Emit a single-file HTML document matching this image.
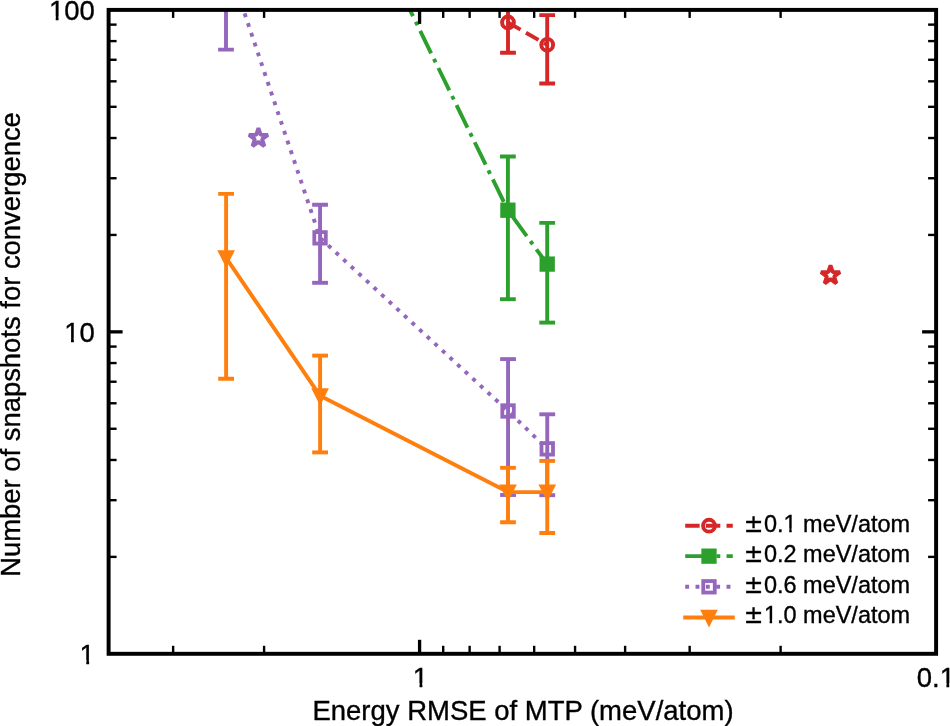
<!DOCTYPE html>
<html lang="en"><head><meta charset="utf-8"><title>Number of snapshots for convergence vs Energy RMSE of MTP</title>
<style>html,body{margin:0;padding:0;background:#fff;overflow:hidden}svg{display:block;will-change:transform}</style></head>
<body>
<svg width="950" height="726" viewBox="0 0 950 726" font-family='"Liberation Sans", sans-serif'>
<rect width="950" height="726" fill="#fff"/>
<defs><clipPath id="ax"><rect x="108.6" y="9.9" width="827.5" height="643.9"/></clipPath></defs>
<g clip-path="url(#ax)">
<path d="M508.0,22.45 L547.2,44.8" fill="none" stroke="#d62728" stroke-width="3.9" stroke-dasharray="14.43 6.24"/>
<line x1="508.0" y1="-20" x2="508.0" y2="52.75" stroke="#d62728" stroke-width="3.9"/><line x1="500.1" y1="-20" x2="515.9" y2="-20" stroke="#d62728" stroke-width="3.9"/><line x1="500.1" y1="52.75" x2="515.9" y2="52.75" stroke="#d62728" stroke-width="3.9"/>
<line x1="547.2" y1="15.15" x2="547.2" y2="83.5" stroke="#d62728" stroke-width="3.9"/><line x1="539.3000000000001" y1="15.15" x2="555.1" y2="15.15" stroke="#d62728" stroke-width="3.9"/><line x1="539.3000000000001" y1="83.5" x2="555.1" y2="83.5" stroke="#d62728" stroke-width="3.9"/>
<circle cx="508.0" cy="22.45" r="5.9" fill="none" stroke="#d62728" stroke-width="3.95"/>
<circle cx="547.2" cy="44.8" r="5.9" fill="none" stroke="#d62728" stroke-width="3.95"/>
<polygon points="830.50,265.25 832.75,272.16 840.01,272.16 834.13,276.43 836.38,283.34 830.50,279.07 824.62,283.34 826.87,276.43 820.99,272.16 828.25,272.16" fill="#fff" stroke="#d62728" stroke-width="3.9" stroke-linejoin="bevel"/>
<path d="M383.88,-43.43 L507.9,210.2 L547.2,264.1" fill="none" stroke="#2ca02c" stroke-width="3.9" stroke-dasharray="24.96 6.24 3.90 6.24"/>
<line x1="507.9" y1="156.5" x2="507.9" y2="299.2" stroke="#2ca02c" stroke-width="3.9"/><line x1="500.0" y1="156.5" x2="515.8" y2="156.5" stroke="#2ca02c" stroke-width="3.9"/><line x1="500.0" y1="299.2" x2="515.8" y2="299.2" stroke="#2ca02c" stroke-width="3.9"/>
<line x1="547.2" y1="222.9" x2="547.2" y2="322.6" stroke="#2ca02c" stroke-width="3.9"/><line x1="539.3000000000001" y1="222.9" x2="555.1" y2="222.9" stroke="#2ca02c" stroke-width="3.9"/><line x1="539.3000000000001" y1="322.6" x2="555.1" y2="322.6" stroke="#2ca02c" stroke-width="3.9"/>
<rect x="500.25" y="202.54999999999998" width="15.3" height="15.3" fill="#2ca02c"/>
<rect x="539.5500000000001" y="256.45000000000005" width="15.3" height="15.3" fill="#2ca02c"/>
<path d="M226.0,-42.0 L320.05,237.85 L508.05,411.0 L547.25,448.85" fill="none" stroke="#9467bd" stroke-width="3.9" stroke-dasharray="3.90 6.43" stroke-dashoffset="3.6"/>
<line x1="226.0" y1="-80" x2="226.0" y2="49.6" stroke="#9467bd" stroke-width="3.9"/><line x1="218.1" y1="-80" x2="233.9" y2="-80" stroke="#9467bd" stroke-width="3.9"/><line x1="218.1" y1="49.6" x2="233.9" y2="49.6" stroke="#9467bd" stroke-width="3.9"/>
<line x1="320.05" y1="204.8" x2="320.05" y2="282.8" stroke="#9467bd" stroke-width="3.9"/><line x1="312.15000000000003" y1="204.8" x2="327.95" y2="204.8" stroke="#9467bd" stroke-width="3.9"/><line x1="312.15000000000003" y1="282.8" x2="327.95" y2="282.8" stroke="#9467bd" stroke-width="3.9"/>
<line x1="508.05" y1="359.1" x2="508.05" y2="495.0" stroke="#9467bd" stroke-width="3.9"/><line x1="500.15000000000003" y1="359.1" x2="515.95" y2="359.1" stroke="#9467bd" stroke-width="3.9"/><line x1="500.15000000000003" y1="495.0" x2="515.95" y2="495.0" stroke="#9467bd" stroke-width="3.9"/>
<line x1="547.25" y1="414.3" x2="547.25" y2="495.2" stroke="#9467bd" stroke-width="3.9"/><line x1="539.35" y1="414.3" x2="555.15" y2="414.3" stroke="#9467bd" stroke-width="3.9"/><line x1="539.35" y1="495.2" x2="555.15" y2="495.2" stroke="#9467bd" stroke-width="3.9"/>
<rect x="314.3" y="232.1" width="11.5" height="11.5" fill="none" stroke="#9467bd" stroke-width="3.8"/>
<rect x="502.3" y="405.25" width="11.5" height="11.5" fill="none" stroke="#9467bd" stroke-width="3.8"/>
<rect x="541.5" y="443.1" width="11.5" height="11.5" fill="none" stroke="#9467bd" stroke-width="3.8"/>
<polygon points="258.45,128.00 260.70,134.91 267.96,134.91 262.08,139.18 264.33,146.09 258.45,141.82 252.57,146.09 254.82,139.18 248.94,134.91 256.20,134.91" fill="#fff" stroke="#9467bd" stroke-width="3.9" stroke-linejoin="bevel"/>
<path d="M226.1,257.8 L320.1,395.8 L508.0,492.1 L547.25,492.1" fill="none" stroke="#ff7f0e" stroke-width="3.9" stroke-linejoin="round"/>
<line x1="226.1" y1="193.9" x2="226.1" y2="378.7" stroke="#ff7f0e" stroke-width="3.9"/><line x1="218.2" y1="193.9" x2="234.0" y2="193.9" stroke="#ff7f0e" stroke-width="3.9"/><line x1="218.2" y1="378.7" x2="234.0" y2="378.7" stroke="#ff7f0e" stroke-width="3.9"/>
<line x1="320.1" y1="355.6" x2="320.1" y2="452.4" stroke="#ff7f0e" stroke-width="3.9"/><line x1="312.20000000000005" y1="355.6" x2="328.0" y2="355.6" stroke="#ff7f0e" stroke-width="3.9"/><line x1="312.20000000000005" y1="452.4" x2="328.0" y2="452.4" stroke="#ff7f0e" stroke-width="3.9"/>
<line x1="508.0" y1="467.8" x2="508.0" y2="522.2" stroke="#ff7f0e" stroke-width="3.9"/><line x1="500.1" y1="467.8" x2="515.9" y2="467.8" stroke="#ff7f0e" stroke-width="3.9"/><line x1="500.1" y1="522.2" x2="515.9" y2="522.2" stroke="#ff7f0e" stroke-width="3.9"/>
<line x1="547.25" y1="460.9" x2="547.25" y2="533.0" stroke="#ff7f0e" stroke-width="3.9"/><line x1="539.35" y1="460.9" x2="555.15" y2="460.9" stroke="#ff7f0e" stroke-width="3.9"/><line x1="539.35" y1="533.0" x2="555.15" y2="533.0" stroke="#ff7f0e" stroke-width="3.9"/>
<polygon points="220.35,252.05 231.85,252.05 226.1,263.55" fill="#ff7f0e" stroke="#ff7f0e" stroke-width="3.8" stroke-linejoin="miter" stroke-miterlimit="10"/>
<polygon points="314.35,390.05 325.85,390.05 320.1,401.55" fill="#ff7f0e" stroke="#ff7f0e" stroke-width="3.8" stroke-linejoin="miter" stroke-miterlimit="10"/>
<polygon points="502.25,486.35 513.75,486.35 508.0,497.85" fill="#ff7f0e" stroke="#ff7f0e" stroke-width="3.8" stroke-linejoin="miter" stroke-miterlimit="10"/>
<polygon points="541.5,486.35 553.0,486.35 547.25,497.85" fill="#ff7f0e" stroke="#ff7f0e" stroke-width="3.8" stroke-linejoin="miter" stroke-miterlimit="10"/>
</g>
<line x1="173.13" y1="653.80" x2="173.13" y2="645.80" stroke="#000" stroke-width="2.4"/>
<line x1="173.13" y1="9.90" x2="173.13" y2="17.90" stroke="#000" stroke-width="2.4"/>
<line x1="264.09" y1="653.80" x2="264.09" y2="645.80" stroke="#000" stroke-width="2.4"/>
<line x1="264.09" y1="9.90" x2="264.09" y2="17.90" stroke="#000" stroke-width="2.4"/>
<line x1="419.58" y1="653.80" x2="419.58" y2="639.80" stroke="#000" stroke-width="3.3"/>
<line x1="419.58" y1="9.90" x2="419.58" y2="23.90" stroke="#000" stroke-width="3.3"/>
<line x1="443.21" y1="653.80" x2="443.21" y2="645.80" stroke="#000" stroke-width="2.4"/>
<line x1="443.21" y1="9.90" x2="443.21" y2="17.90" stroke="#000" stroke-width="2.4"/>
<line x1="469.63" y1="653.80" x2="469.63" y2="645.80" stroke="#000" stroke-width="2.4"/>
<line x1="469.63" y1="9.90" x2="469.63" y2="17.90" stroke="#000" stroke-width="2.4"/>
<line x1="499.59" y1="653.80" x2="499.59" y2="645.80" stroke="#000" stroke-width="2.4"/>
<line x1="499.59" y1="9.90" x2="499.59" y2="17.90" stroke="#000" stroke-width="2.4"/>
<line x1="534.17" y1="653.80" x2="534.17" y2="645.80" stroke="#000" stroke-width="2.4"/>
<line x1="534.17" y1="9.90" x2="534.17" y2="17.90" stroke="#000" stroke-width="2.4"/>
<line x1="575.07" y1="653.80" x2="575.07" y2="645.80" stroke="#000" stroke-width="2.4"/>
<line x1="575.07" y1="9.90" x2="575.07" y2="17.90" stroke="#000" stroke-width="2.4"/>
<line x1="625.12" y1="653.80" x2="625.12" y2="645.80" stroke="#000" stroke-width="2.4"/>
<line x1="625.12" y1="9.90" x2="625.12" y2="17.90" stroke="#000" stroke-width="2.4"/>
<line x1="689.66" y1="653.80" x2="689.66" y2="645.80" stroke="#000" stroke-width="2.4"/>
<line x1="689.66" y1="9.90" x2="689.66" y2="17.90" stroke="#000" stroke-width="2.4"/>
<line x1="780.61" y1="653.80" x2="780.61" y2="645.80" stroke="#000" stroke-width="2.4"/>
<line x1="780.61" y1="9.90" x2="780.61" y2="17.90" stroke="#000" stroke-width="2.4"/>
<line x1="108.60" y1="556.88" x2="116.60" y2="556.88" stroke="#000" stroke-width="2.4"/>
<line x1="936.10" y1="556.88" x2="928.10" y2="556.88" stroke="#000" stroke-width="2.4"/>
<line x1="108.60" y1="500.19" x2="116.60" y2="500.19" stroke="#000" stroke-width="2.4"/>
<line x1="936.10" y1="500.19" x2="928.10" y2="500.19" stroke="#000" stroke-width="2.4"/>
<line x1="108.60" y1="459.97" x2="116.60" y2="459.97" stroke="#000" stroke-width="2.4"/>
<line x1="936.10" y1="459.97" x2="928.10" y2="459.97" stroke="#000" stroke-width="2.4"/>
<line x1="108.60" y1="428.77" x2="116.60" y2="428.77" stroke="#000" stroke-width="2.4"/>
<line x1="936.10" y1="428.77" x2="928.10" y2="428.77" stroke="#000" stroke-width="2.4"/>
<line x1="108.60" y1="403.27" x2="116.60" y2="403.27" stroke="#000" stroke-width="2.4"/>
<line x1="936.10" y1="403.27" x2="928.10" y2="403.27" stroke="#000" stroke-width="2.4"/>
<line x1="108.60" y1="381.72" x2="116.60" y2="381.72" stroke="#000" stroke-width="2.4"/>
<line x1="936.10" y1="381.72" x2="928.10" y2="381.72" stroke="#000" stroke-width="2.4"/>
<line x1="108.60" y1="363.05" x2="116.60" y2="363.05" stroke="#000" stroke-width="2.4"/>
<line x1="936.10" y1="363.05" x2="928.10" y2="363.05" stroke="#000" stroke-width="2.4"/>
<line x1="108.60" y1="346.58" x2="116.60" y2="346.58" stroke="#000" stroke-width="2.4"/>
<line x1="936.10" y1="346.58" x2="928.10" y2="346.58" stroke="#000" stroke-width="2.4"/>
<line x1="108.60" y1="331.85" x2="122.60" y2="331.85" stroke="#000" stroke-width="3.3"/>
<line x1="936.10" y1="331.85" x2="922.10" y2="331.85" stroke="#000" stroke-width="3.3"/>
<line x1="108.60" y1="234.93" x2="116.60" y2="234.93" stroke="#000" stroke-width="2.4"/>
<line x1="936.10" y1="234.93" x2="928.10" y2="234.93" stroke="#000" stroke-width="2.4"/>
<line x1="108.60" y1="178.24" x2="116.60" y2="178.24" stroke="#000" stroke-width="2.4"/>
<line x1="936.10" y1="178.24" x2="928.10" y2="178.24" stroke="#000" stroke-width="2.4"/>
<line x1="108.60" y1="138.02" x2="116.60" y2="138.02" stroke="#000" stroke-width="2.4"/>
<line x1="936.10" y1="138.02" x2="928.10" y2="138.02" stroke="#000" stroke-width="2.4"/>
<line x1="108.60" y1="106.82" x2="116.60" y2="106.82" stroke="#000" stroke-width="2.4"/>
<line x1="936.10" y1="106.82" x2="928.10" y2="106.82" stroke="#000" stroke-width="2.4"/>
<line x1="108.60" y1="81.32" x2="116.60" y2="81.32" stroke="#000" stroke-width="2.4"/>
<line x1="936.10" y1="81.32" x2="928.10" y2="81.32" stroke="#000" stroke-width="2.4"/>
<line x1="108.60" y1="59.77" x2="116.60" y2="59.77" stroke="#000" stroke-width="2.4"/>
<line x1="936.10" y1="59.77" x2="928.10" y2="59.77" stroke="#000" stroke-width="2.4"/>
<line x1="108.60" y1="41.10" x2="116.60" y2="41.10" stroke="#000" stroke-width="2.4"/>
<line x1="936.10" y1="41.10" x2="928.10" y2="41.10" stroke="#000" stroke-width="2.4"/>
<line x1="108.60" y1="24.63" x2="116.60" y2="24.63" stroke="#000" stroke-width="2.4"/>
<line x1="936.10" y1="24.63" x2="928.10" y2="24.63" stroke="#000" stroke-width="2.4"/>
<rect x="108.6" y="9.9" width="827.5" height="643.9" fill="none" stroke="#000" stroke-width="3.95"/>
<text transform="translate(94.90,20.20) scale(1,1.02)" font-size="27.5" text-anchor="end" fill="#000" stroke="#000" stroke-width="0.35" >100</text>
<rect x="49.71" y="16.50" width="5.99" height="5.90" fill="#fff"/><rect x="58.56" y="16.50" width="5.77" height="5.90" fill="#fff"/>
<text transform="translate(94.90,341.75) scale(1,1.02)" font-size="27.5" text-anchor="end" fill="#000" stroke="#000" stroke-width="0.35" >10</text>
<rect x="65.00" y="338.05" width="5.99" height="5.90" fill="#fff"/><rect x="73.86" y="338.05" width="5.77" height="5.90" fill="#fff"/>
<text transform="translate(94.90,663.70) scale(1,1.02)" font-size="27.5" text-anchor="end" fill="#000" stroke="#000" stroke-width="0.35" >1</text>
<rect x="80.30" y="660.00" width="5.99" height="5.90" fill="#fff"/><rect x="89.15" y="660.00" width="5.77" height="5.90" fill="#fff"/>
<text transform="translate(420.48,686.90) scale(1,1.02)" font-size="27.5" text-anchor="middle" fill="#000" stroke="#000" stroke-width="0.35" >1</text>
<rect x="413.52" y="683.20" width="5.99" height="5.90" fill="#fff"/><rect x="422.38" y="683.20" width="5.77" height="5.90" fill="#fff"/>
<text transform="translate(935.90,687.00) scale(1,1.02)" font-size="27.5" text-anchor="middle" fill="#000" stroke="#000" stroke-width="0.35" >0.1</text>
<rect x="940.41" y="683.30" width="5.99" height="5.90" fill="#fff"/><rect x="949.27" y="683.30" width="5.77" height="5.90" fill="#fff"/>
<text transform="translate(523.00,720.40) scale(1,1.02)" font-size="27.5" text-anchor="middle" fill="#000" stroke="#000" stroke-width="0.35" >Energy RMSE of MTP (meV/atom)</text>
<text transform="translate(20.4,344.5) rotate(-90) scale(1,1.02)" font-size="27.43" text-anchor="middle" fill="#000" stroke="#000" stroke-width="0.35">Number of snapshots for convergence</text>
<line x1="685.2" y1="525.7" x2="732.8" y2="525.7" stroke="#d62728" stroke-width="3.9" stroke-dasharray="14.43 6.24"/>
<circle cx="709.0" cy="525.7" r="5.9" fill="none" stroke="#d62728" stroke-width="3.95"/>
<line x1="685.2" y1="556.15" x2="732.8" y2="556.15" stroke="#2ca02c" stroke-width="3.9" stroke-dasharray="24.96 6.24 3.90 6.24"/>
<rect x="701.35" y="548.5" width="15.3" height="15.3" fill="#2ca02c"/>
<line x1="685.2" y1="586.8" x2="732.8" y2="586.8" stroke="#9467bd" stroke-width="3.9" stroke-dasharray="3.90 6.43"/>
<rect x="703.25" y="581.05" width="11.5" height="11.5" fill="none" stroke="#9467bd" stroke-width="3.8"/>
<line x1="683.25" y1="617.45" x2="734.75" y2="617.45" stroke="#ff7f0e" stroke-width="3.9"/>
<polygon points="703.25,611.7 714.75,611.7 709.0,623.2" fill="#ff7f0e" stroke="#ff7f0e" stroke-width="3.8" stroke-linejoin="miter" stroke-miterlimit="10"/>
<text transform="translate(743.65,531.60) scale(1,1.02)" font-size="23.5" fill="#000" stroke="#000" stroke-width="0.35"><tspan font-family='"DejaVu Sans", sans-serif'>±</tspan><tspan dx="0.6">0.1 meV/atom</tspan></text>
<rect x="783.93" y="528.20" width="5.29" height="5.60" fill="#fff"/><rect x="791.73" y="528.20" width="5.10" height="5.60" fill="#fff"/>
<text transform="translate(743.65,562.05) scale(1,1.02)" font-size="23.5" fill="#000" stroke="#000" stroke-width="0.35"><tspan font-family='"DejaVu Sans", sans-serif'>±</tspan><tspan dx="0.6">0.2 meV/atom</tspan></text>
<text transform="translate(743.65,592.50) scale(1,1.02)" font-size="23.5" fill="#000" stroke="#000" stroke-width="0.35"><tspan font-family='"DejaVu Sans", sans-serif'>±</tspan><tspan dx="0.6">0.6 meV/atom</tspan></text>
<text transform="translate(743.65,622.95) scale(1,1.02)" font-size="23.5" fill="#000" stroke="#000" stroke-width="0.35"><tspan font-family='"DejaVu Sans", sans-serif'>±</tspan><tspan dx="0.6">1.0 meV/atom</tspan></text>
<rect x="764.33" y="619.55" width="5.29" height="5.60" fill="#fff"/><rect x="772.13" y="619.55" width="5.10" height="5.60" fill="#fff"/>
</svg>
</body></html>
